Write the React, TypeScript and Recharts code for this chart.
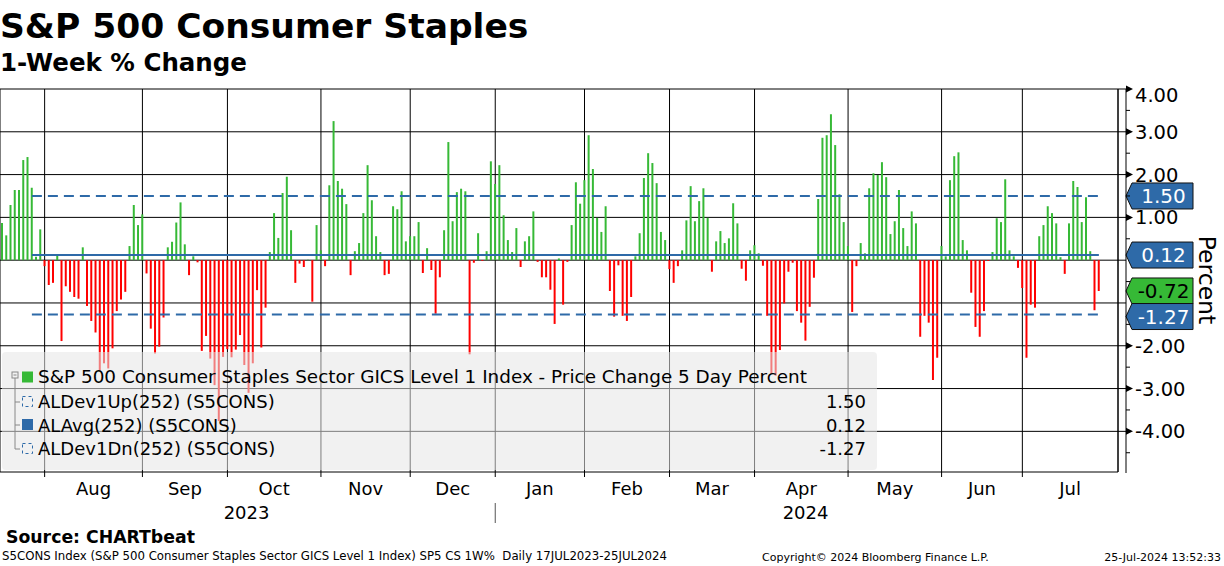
import React from 'react';
import { ComposedChart, Bar, Cell, XAxis, YAxis, CartesianGrid, ReferenceLine } from 'recharts';

// ---- data: 1-week % change, one value per trading day, grouped by month ----
const jul23 = [0.87, 0.58, 1.29, 1.64, 1.64, 2.34, 2.41, 1.69, 0.08, 0.72];
const aug23 = [-0.14, -0.58, -0.53, 0.1, -1.89, -0.61, -0.74, -0.86, -0.9, 0.3, -1.07, -1.42, -1.69, -2.6, -2.41, -2.53, -2.06, -1.19, -0.92, -0.74, 0.33, 1.29, 0.82];
const sep23 = [1.07, -0.31, -1.6, -2.18, -2.02, -1.34, 0.3, 0.43, 0.88, 1.35, 0.37, -0.35, 0.09, -0.05, -2.12, -1.77, -2.3, -2.92, -3.76, -2.26];
const oct23 = [-2.08, -2.27, -2.09, -1.75, -2.45, -3.1, -2.41, -0.7, -2.04, -1.11, 0.19, 1.1, 0.52, 1.57, 1.95, 0.7, -0.53, -0.08, -0.16, 0.01, -0.97, 0.82];
const nov23 = [0.23, -0.14, 1.75, 3.25, 1.85, 1.67, 1.31, -0.35, 0.21, 0.4, 1.1, 2.22, 1.4, 0.56, 0.19, -0.35, -0.32, 1.26, 1.19, 1.61, 0.44];
const dec23 = [0.56, 0.56, 0.89, -0.3, 0.28, -0.23, -1.25, -0.4, 0.7, 2.76, 0.91, 1.59, 1.67, 1.61, -2.2, -0.06, 0.63, -0.02, 0.21, 2.31];
const jan24 = [1.78, 2.22, 1.05, 0.47, 0.19, 0.75, -0.16, 0.44, 0.56, 1.14, -0.04, -0.4, -0.4, -0.69, -1.49, 0.04, -1.04, -0.04, 0.82, 1.82, 1.32];
const feb24 = [1.87, 2.92, 2.13, 0.99, 0.66, 1.26, -0.72, -1.32, -0.12, -1.3, -1.42, -0.86, 0.09, 0.63, 1.92, 2.5, 2.27, 1.8, 0.66, 0.47];
const mar24 = [-0.21, -0.53, -0.14, 0.23, 0.93, 1.73, 0.91, 1.38, 1.68, 0.99, -0.27, 0.44, 0.68, 0.4, 0.51, 1.33, 0.86, -0.2, -0.48, 0.23];
const apr24 = [0.35, 0.16, -0.13, -1.3, -2.65, -2.7, -2.1, -1.01, -0.27, -0.06, -1.19, -1.46, -1.88, -1.09, -0.41, 1.43, 2.86, 2.92, 3.41, 2.69, 1.54, 0.89];
const may24 = [0.33, -1.21, -0.14, 0.4, 0.16, 1.68, 2.03, 1.99, 2.29, 1.94, 0.61, 0.91, 1.64, 0.75, 0.33, 1.14, 0.86, -1.79, -1.3, -1.46, -2.8, -2.28];
const jun24 = [0.33, 0.09, 1.87, 2.43, 2.52, 0.47, 0.23, -0.76, -1.56, -1.79, -1.19, -0.02, 0.19, 0.98, 0.89, 1.89, 0.23, 0.09, -0.18];
const jul24 = [-0.65, -2.28, -1.04, -1.11, 0.56, 0.82, 1.26, 1.1, 0.86, 0.07, -0.32, 0.86, 1.85, 1.71, 0.89, 1.47, 0.21, -1.17, -0.72];

const months = [
  { key: 'Jul23', label: '', year: '2023', values: jul23 },
  { key: 'Aug23', label: 'Aug', year: '2023', values: aug23 },
  { key: 'Sep23', label: 'Sep', year: '2023', values: sep23 },
  { key: 'Oct23', label: 'Oct', year: '2023', values: oct23 },
  { key: 'Nov23', label: 'Nov', year: '2023', values: nov23 },
  { key: 'Dec23', label: 'Dec', year: '2023', values: dec23 },
  { key: 'Jan24', label: 'Jan', year: '2024', values: jan24 },
  { key: 'Feb24', label: 'Feb', year: '2024', values: feb24 },
  { key: 'Mar24', label: 'Mar', year: '2024', values: mar24 },
  { key: 'Apr24', label: 'Apr', year: '2024', values: apr24 },
  { key: 'May24', label: 'May', year: '2024', values: may24 },
  { key: 'Jun24', label: 'Jun', year: '2024', values: jun24 },
  { key: 'Jul24', label: 'Jul', year: '2024', values: jul24 },
];

// 252-day statistics (flat over the window)
const DEV_UP = 1.5;
const AVG = 0.12;
const DEV_DN = -1.27;
const STATS_START_BAR = 7; // statistic lines begin at the 8th bar
const PAD_SLOTS = 4; // empty trading-day slots after the last bar

const Y_TICKS = [4, 3.5, 3, 2.5, 2, 1.5, 1, 0.5, 0, -0.5, -1, -1.5, -2, -2.5, -3, -3.5, -4, -4.5];
const Y_GRID = [4, 3, 2, 1, 0, -1, -2, -3, -4];
const Y_DOMAIN = [-4.95, 4];

// ---- build table ----
type Row = { d: string; v: number | null };
const data: Row[] = [];
const monthStart: Record<string, { label: string; year: string; idx: number; len: number }> = {};
months.forEach((m) => {
  monthStart[`${m.key}-1`] = { label: m.label, year: m.year, idx: data.length, len: m.values.length };
  m.values.forEach((v, i) => data.push({ d: `${m.key}-${i + 1}`, v }));
});
const lastValue = data[data.length - 1].v as number;
const firstStatCat = data[STATS_START_BAR].d;
const lastStatCat = data[data.length - 1].d;
for (let i = 1; i <= PAD_SLOTS; i++) data.push({ d: `pad-${i}`, v: null });
const N = data.length;
const tickCats = months.filter((m) => m.label).map((m) => `${m.key}-1`);
const yearSpans: Record<string, { a: number; b: number; first: string }> = {};
months.forEach((m) => {
  const s = monthStart[`${m.key}-1`];
  if (!yearSpans[m.year]) yearSpans[m.year] = { a: s.idx, b: s.idx + s.len, first: '' };
  yearSpans[m.year].b = s.idx + s.len;
  if (m.label && !yearSpans[m.year].first) yearSpans[m.year].first = `${m.key}-1`;
});
yearSpans['2024'].b = N;
const TAG_VALUES = [DEV_UP, AVG, lastValue, DEV_DN];

// ---- layout / style ----
const W = 1224;
const H = 566;
const PLOT_TOP = 89;
const PLOT_BOTTOM = 472;
const PLOT_RIGHT = 1118;
const AXIS_X = 1126;
const BAND = PLOT_RIGHT / N;
const FONT = '"DejaVu Sans", Verdana, sans-serif';
const GREEN = '#36b936';
const RED = '#ff0000';
const BLUE = '#2e6aa8';

const XTick = (props: any) => {
  const { x, payload } = props;
  const info = monthStart[payload.value];
  if (!info) return null;
  const isLast = info.idx === monthStart[`${months[months.length - 1].key}-1`].idx;
  const span = isLast ? N - info.idx - 0.5 : info.len;
  const cx = x + (span * BAND) / 2;
  const els: React.ReactNode[] = [
    <text key="m" x={cx} y={495} textAnchor="middle" fontSize={18} fontFamily={FONT} fill="#000">
      {info.label}
    </text>,
  ];
  const ys = yearSpans[info.year];
  if (ys.first === payload.value) {
    const yc = x + ((ys.a + ys.b) / 2 - (info.idx + 0.5)) * BAND;
    els.push(
      <text key="y" x={yc} y={519} textAnchor="middle" fontSize={18} fontFamily={FONT} fill="#000">
        {info.year}
      </text>
    );
    if (ys.a > 0) {
      els.push(<line key="s" x1={x} x2={x} y1={503} y2={523} stroke="#555" strokeWidth={1} />);
    }
  }
  return <g>{els}</g>;
};

const YTick = (props: any) => {
  const { y, payload } = props;
  const v = payload.value as number;
  const major = Math.abs(v - Math.round(v)) < 1e-6;
  if (!major) {
    return <line x1={AXIS_X} x2={AXIS_X + 4} y1={y} y2={y} stroke="#000" strokeWidth={1} />;
  }
  // labels that sit under a value tag are hidden, as in the reference
  const covered = TAG_VALUES.some((t) => Math.abs(t - v) < 0.35);
  return (
    <g>
      <line x1={PLOT_RIGHT} x2={AXIS_X} y1={y} y2={y} stroke="#000" strokeWidth={1} />
      {!covered && <polygon points={`${AXIS_X},${y - 3.5} ${AXIS_X + 7},${y} ${AXIS_X},${y + 3.5}`} fill="#000" />}
      {!covered && (
        <text x={AXIS_X + 9} y={y + (v === 4 ? 6 : 0)} dy="0.36em" fontSize={19.5} fontFamily={FONT} fill="#000">
          {v.toFixed(2)}
        </text>
      )}
    </g>
  );
};

const makeTag = (text: string, fill: string, color: string, dy = 0) => (props: any) => {
  const vb = props && props.viewBox;
  if (!vb) return null;
  const cy = vb.y + dy;
  const tip = AXIS_X;
  const l = AXIS_X + 6;
  const r = 1193;
  const h = 13;
  return (
    <g>
      <polygon
        points={`${tip},${cy} ${l},${cy - h} ${r},${cy - h} ${r},${cy + h} ${l},${cy + h}`}
        fill={fill}
        stroke="#111"
        strokeWidth={1}
      />
      <text x={(l + r) / 2 + 1} y={cy} dy="0.36em" textAnchor="middle" fontSize={20} fontFamily={FONT} fill={color}>
        {text}
      </text>
    </g>
  );
};

const legendRows = [
  { text: 'S&P 500 Consumer Staples Sector GICS Level 1 Index - Price Change 5 Day Percent', value: '', icon: 'green' },
  { text: 'ALDev1Up(252) (S5CONS)', value: DEV_UP.toFixed(2), icon: 'dash' },
  { text: 'ALAvg(252) (S5CONS)', value: AVG.toFixed(2), icon: 'blue' },
  { text: 'ALDev1Dn(252) (S5CONS)', value: DEV_DN.toFixed(2), icon: 'dash' },
];
const LEGEND_TOPS = [16.1, 40.8, 64.8, 88.4];

export default function App() {
  const abs = (extra: React.CSSProperties): React.CSSProperties => ({ position: 'absolute', fontFamily: FONT, color: '#000', whiteSpace: 'pre', lineHeight: 1, ...extra });
  return (
    <div style={{ position: 'absolute', left: 0, top: 0, width: W, height: H, background: '#fff', overflow: 'hidden' }}>
      <div style={abs({ left: 0, top: 9.3, fontSize: 34.5, fontWeight: 'bold' })}>S&amp;P 500 Consumer Staples</div>
      <div style={abs({ left: 0, top: 51.3, fontSize: 24.5, fontWeight: 'bold' })}>1-Week % Change</div>

      <div style={{ position: 'absolute', left: 0, top: 0 }}>
        <ComposedChart width={W} height={H} data={data} margin={{ top: PLOT_TOP - 5, right: 0, bottom: H - PLOT_BOTTOM - 30, left: 0 }} barCategoryGap={0}>
          <CartesianGrid stroke="#000" strokeWidth={1} horizontalValues={Y_GRID} vertical={true} horizontal={true} />
          <XAxis dataKey="d" ticks={tickCats} interval={0} tick={<XTick />} tickSize={5} tickLine={{ stroke: '#000' }} axisLine={{ stroke: '#000' }} height={30} />
          <XAxis xAxisId="top" orientation="top" dataKey="d" ticks={tickCats} interval={0} tick={false} tickSize={5} tickLine={{ stroke: '#000' }} axisLine={false} height={5} />
          <YAxis orientation="right" domain={Y_DOMAIN} ticks={Y_TICKS} interval={0} allowDataOverflow width={W - PLOT_RIGHT} tick={<YTick />} tickLine={false} tickSize={0} axisLine={{ stroke: '#000' }} />
          <Bar dataKey="v" barSize={2} isAnimationActive={false}>
            {data.map((r, i) => (
              <Cell key={i} fill={(r.v ?? 0) >= 0 ? GREEN : RED} />
            ))}
          </Bar>
          <ReferenceLine segment={[{ x: firstStatCat, y: DEV_UP }, { x: lastStatCat, y: DEV_UP }]} stroke={BLUE} strokeWidth={2} strokeDasharray="10 6" />
          <ReferenceLine segment={[{ x: firstStatCat, y: AVG }, { x: lastStatCat, y: AVG }]} stroke={BLUE} strokeWidth={2} />
          <ReferenceLine segment={[{ x: firstStatCat, y: DEV_DN }, { x: lastStatCat, y: DEV_DN }]} stroke={BLUE} strokeWidth={2} strokeDasharray="10 6" />
          <ReferenceLine y={DEV_UP} stroke="none" label={makeTag(DEV_UP.toFixed(2), BLUE, '#fff')} />
          <ReferenceLine y={AVG} stroke="none" label={makeTag(AVG.toFixed(2), BLUE, '#fff')} />
          <ReferenceLine y={lastValue} stroke="none" label={makeTag(lastValue.toFixed(2), GREEN, '#000')} />
          <ReferenceLine y={DEV_DN} stroke="none" label={makeTag(DEV_DN.toFixed(2), BLUE, '#fff', 2)} />
        </ComposedChart>
      </div>

      <svg style={{ position: 'absolute', left: 0, top: 0, pointerEvents: 'none' }} width={W} height={H}>
        <line x1={AXIS_X} x2={AXIS_X} y1={PLOT_TOP} y2={PLOT_BOTTOM + 1} stroke="#000" strokeWidth={1} />
        <text x={1207} y={280} transform="rotate(90 1207 280)" textAnchor="middle" dy="0.36em" fontSize={23.5} fontFamily={FONT} fill="#000">
          Percent
        </text>
      </svg>

      {/* legend */}
      <div style={{ position: 'absolute', left: 2, top: 352, width: 875, height: 118, background: 'rgba(230,230,230,0.55)', borderRadius: 4 }}>
        <svg style={{ position: 'absolute', left: 0, top: 0 }} width={875} height={118}>
          <rect x={10} y={20} width={6} height={6} fill="none" stroke="#888" strokeWidth={1} />
          <line x1={11.5} x2={14.5} y1={23} y2={23} stroke="#888" />
          <line x1={13} x2={13} y1={26} y2={97} stroke="#888" />
          {[50, 73, 97].map((yy) => (
            <line key={yy} x1={13} x2={18} y1={yy} y2={yy} stroke="#888" />
          ))}
          <rect x={20} y={19.5} width={11} height={11} fill={GREEN} />
          <rect x={20.5} y={44.5} width={10} height={10} fill="none" stroke={BLUE} strokeWidth={1} strokeDasharray="3 3" />
          <rect x={20} y={67} width={11} height={11} fill={BLUE} />
          <rect x={20.5} y={91.5} width={10} height={10} fill="none" stroke={BLUE} strokeWidth={1} strokeDasharray="3 3" />
        </svg>
        {legendRows.map((r, i) => (
          <React.Fragment key={i}>
            <div style={abs({ left: 36, top: LEGEND_TOPS[i], fontSize: i === 0 ? 18.4 : 18 })}>{r.text}</div>
            {r.value && <div style={abs({ right: 11, top: LEGEND_TOPS[i], fontSize: 18 })}>{r.value}</div>}
          </React.Fragment>
        ))}
      </div>

      <div style={abs({ left: 6, top: 529.4, fontSize: 17.3, fontWeight: 'bold' })}>Source: CHARTbeat</div>
      <div style={abs({ left: 2, top: 551, fontSize: 11.75 })}>S5CONS Index (S&amp;P 500 Consumer Staples Sector GICS Level 1 Index) SP5 CS 1W%  Daily 17JUL2023-25JUL2024</div>
      <div style={abs({ left: 762, top: 551.5, fontSize: 11 })}>Copyright© 2024 Bloomberg Finance L.P.</div>
      <div style={abs({ right: 3, top: 551.5, fontSize: 11 })}>25-Jul-2024 13:52:33</div>
    </div>
  );
}
